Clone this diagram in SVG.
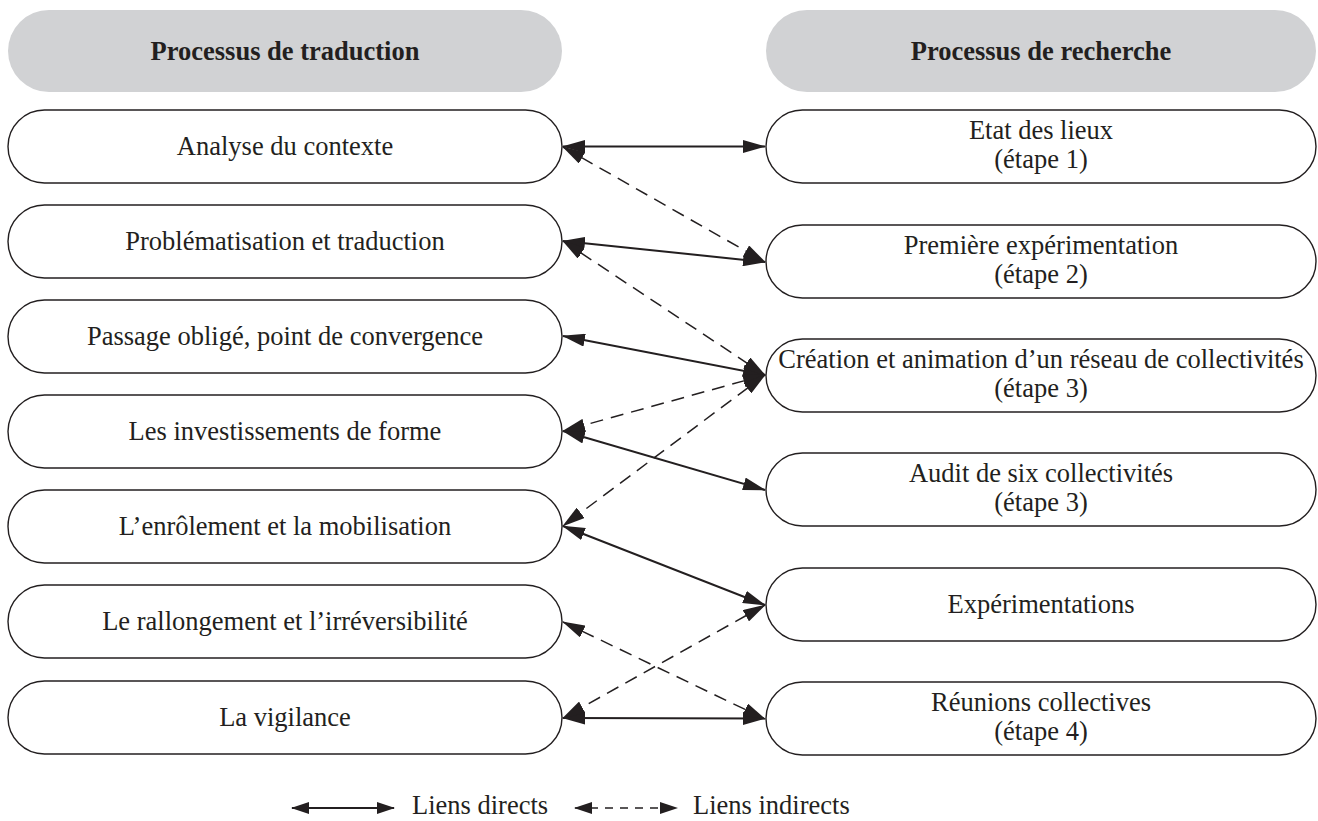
<svg xmlns="http://www.w3.org/2000/svg" width="1318" height="821" viewBox="0 0 1318 821">
<style>
  .hdr { fill: #d1d2d4; stroke: none; }
  .node { fill: #ffffff; stroke: #231f20; stroke-width: 1.4; }
  text { font-size: 26.5px; fill: #231f20; text-anchor: middle; }
  .bold { font-weight: bold; }
  .lg { text-anchor: start; }
  .solid { stroke: #231f20; stroke-width: 2; fill: none; marker-start: url(#ah); marker-end: url(#ah); }
  .dash { stroke: #231f20; stroke-width: 1.5; fill: none; stroke-dasharray: 13 8; marker-start: url(#ah); marker-end: url(#ah); }
</style>
<defs>
  <marker id="ah" viewBox="0 0 23 13" refX="22" refY="6.5" markerWidth="23" markerHeight="13" markerUnits="userSpaceOnUse" orient="auto-start-reverse">
    <path d="M0,0 L23,6.5 L0,13 Z" fill="#231f20"/>
  </marker>
  <marker id="ahs" viewBox="0 0 18 12" refX="17" refY="6" markerWidth="18" markerHeight="12" markerUnits="userSpaceOnUse" orient="auto-start-reverse">
    <path d="M0,0 L18,6 L0,12 Z" fill="#231f20"/>
  </marker>
</defs>

<g font-family="'Liberation Serif', 'Times New Roman', Tinos, 'DejaVu Serif', serif">
<g id="header-traduction">
  <rect class="hdr" x="8" y="10" width="554" height="82" rx="41"/>
  <text class="bold" x="285" y="60">Processus de traduction</text>
</g>
<g id="header-recherche">
  <rect class="hdr" x="766" y="10" width="550" height="82" rx="41"/>
  <text class="bold" x="1041" y="60">Processus de recherche</text>
</g>

<g id="L1"><rect class="node" x="8" y="110" width="554" height="73" rx="36.5"/><text x="285" y="155">Analyse du contexte</text></g>
<g id="L2"><rect class="node" x="8" y="205" width="554" height="73" rx="36.5"/><text x="285" y="250">Problématisation et traduction</text></g>
<g id="L3"><rect class="node" x="8" y="300" width="554" height="73" rx="36.5"/><text x="285" y="345">Passage obligé, point de convergence</text></g>
<g id="L4"><rect class="node" x="8" y="395" width="554" height="73" rx="36.5"/><text x="285" y="440">Les investissements de forme</text></g>
<g id="L5"><rect class="node" x="8" y="490" width="554" height="73" rx="36.5"/><text x="285" y="535">L’enrôlement et la mobilisation</text></g>
<g id="L6"><rect class="node" x="8" y="585" width="554" height="73" rx="36.5"/><text x="285" y="630">Le rallongement et l’irréversibilité</text></g>
<g id="L7"><rect class="node" x="8" y="681" width="554" height="73" rx="36.5"/><text x="285" y="726">La vigilance</text></g>

<g id="R1"><rect class="node" x="766" y="110" width="550" height="73" rx="36.5"/><text x="1041" y="139">Etat des lieux</text><text x="1041" y="168">(étape 1)</text></g>
<g id="R2"><rect class="node" x="766" y="225" width="550" height="73" rx="36.5"/><text x="1041" y="254">Première expérimentation</text><text x="1041" y="283">(étape 2)</text></g>
<g id="R3"><rect class="node" x="766" y="339" width="550" height="73" rx="36.5"/><text x="1041" y="368">Création et animation d’un réseau de collectivités</text><text x="1041" y="397">(étape 3)</text></g>
<g id="R4"><rect class="node" x="766" y="453" width="550" height="73" rx="36.5"/><text x="1041" y="482">Audit de six collectivités</text><text x="1041" y="511">(étape 3)</text></g>
<g id="R5"><rect class="node" x="766" y="568" width="550" height="73" rx="36.5"/><text x="1041" y="613">Expérimentations</text></g>
<g id="R6"><rect class="node" x="766" y="682" width="550" height="73" rx="36.5"/><text x="1041" y="711">Réunions collectives</text><text x="1041" y="740">(étape 4)</text></g>

<g id="connectors">
  <line class="solid" x1="563" y1="146.5" x2="765" y2="146.5"/>
  <line class="solid" x1="563" y1="241" x2="765" y2="262"/>
  <line class="solid" x1="563" y1="336" x2="765" y2="375"/>
  <line class="solid" x1="563" y1="431" x2="765" y2="490"/>
  <line class="solid" x1="563" y1="526" x2="765" y2="605"/>
  <line class="solid" x1="563" y1="718" x2="765" y2="718.5"/>
  <line class="dash" x1="563" y1="147" x2="765" y2="262"/>
  <line class="dash" x1="563" y1="241" x2="765" y2="375"/>
  <line class="dash" x1="765" y1="375" x2="563" y2="431"/>
  <line class="dash" x1="765" y1="375" x2="563" y2="526"/>
  <line class="dash" x1="563" y1="622" x2="765" y2="719"/>
  <line class="dash" x1="765" y1="605" x2="563" y2="718"/>
</g>

<g id="legend">
  <line x1="292" y1="808" x2="394" y2="808" stroke="#231f20" stroke-width="2" marker-start="url(#ahs)" marker-end="url(#ahs)"/>
  <text class="lg" x="412" y="814">Liens directs</text>
  <line x1="575" y1="808" x2="677" y2="808" stroke="#231f20" stroke-width="1.4" stroke-dasharray="8 7" marker-start="url(#ahs)" marker-end="url(#ahs)"/>
  <text class="lg" x="693" y="814">Liens indirects</text>
</g>
</g>
</svg>
